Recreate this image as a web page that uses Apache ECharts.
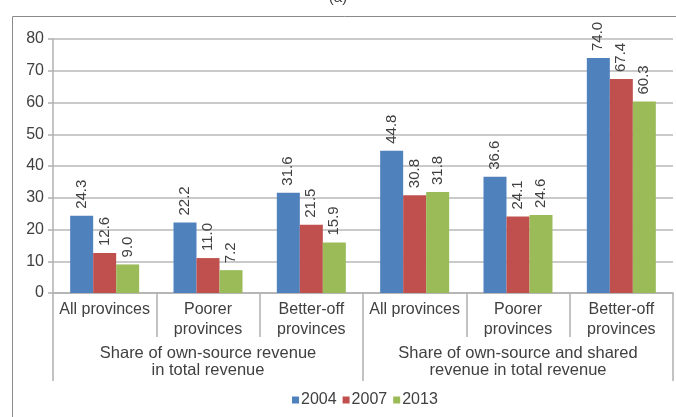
<!DOCTYPE html>
<html>
<head>
<meta charset="utf-8">
<script src="https://cdn.jsdelivr.net/npm/echarts@6/dist/echarts.min.js"></script>
<style>
  html, body { margin: 0; padding: 0; background: #fff; }
  #main { width: 676px; height: 417px; }
</style>
</head>
<body>
<div id="main"></div>
<script>
// sub-groups (inner axis) and the two outer groups
var categories = ['All provinces', 'Poorer\nprovinces', 'Better-off\nprovinces',
                  'All provinces', 'Poorer\nprovinces', 'Better-off\nprovinces'];
var groups = ['Share of own-source revenue\nin total revenue',
              'Share of own-source and shared\nrevenue in total revenue'];
var years = ['2004', '2007', '2013'];
var values2004 = [24.3, 22.2, 31.6, 44.8, 36.6, 74.0];
var values2007 = [12.6, 11.0, 21.5, 30.8, 24.1, 67.4];
var values2013 = [9.0, 7.2, 15.9, 31.8, 24.6, 60.3];
var colors = ['#4F81BD', '#C0504D', '#9BBB59'];

var chart = echarts.init(document.getElementById('main'));

function makeSeries(name, data, color) {
  return {
    name: name,
    type: 'bar',
    data: data,
    barWidth: 23,
    barGap: '0%',
    itemStyle: { color: color },
    label: {
      show: true,
      position: 'top',
      rotate: 90,
      align: 'left',
      verticalAlign: 'middle',
      distance: 7,
      color: '#404040',
      fontSize: 15,
      fontFamily: 'Liberation Sans',
      formatter: function (p) { return p.value.toFixed(1); }
    }
  };
}

var option = {
  animation: false,
  textStyle: { fontFamily: 'Liberation Sans' },
  title: {
    text: '(a)',
    left: 'center',
    top: -15,
    textStyle: { fontSize: 15, fontWeight: 'normal', color: '#404040' }
  },
  graphic: [{
    type: 'rect',
    shape: { x: 12.5, y: 16.5, width: 700, height: 500 },
    style: { fill: 'none', stroke: '#8a8a8a', lineWidth: 1 },
    silent: true
  }],
  grid: { left: 53, right: 3, top: 39, bottom: 124 },
  legend: {
    bottom: 4,
    left: 287,
    itemWidth: 7,
    itemHeight: 7,
    itemGap: 6,
    icon: 'rect',
    textStyle: { fontSize: 16, color: '#404040', padding: [0, 0, 0, -3] },
    data: years
  },
  xAxis: [{
    type: 'category',
    data: categories,
    position: 'bottom',
    axisLine: { lineStyle: { color: '#b0b0b0', width: 1.5 } },
    axisTick: { show: true, length: 44, alignWithLabel: false, lineStyle: { color: '#b0b0b0', width: 1.5 } },
    axisLabel: { color: '#404040', fontSize: 16, lineHeight: 20, margin: 7, interval: 0, verticalAlign: 'top' }
  }, {
    type: 'category',
    data: groups,
    position: 'bottom',
    axisLine: { show: false },
    axisTick: { show: true, length: 88, lineStyle: { color: '#b0b0b0', width: 1.5 } },
    axisLabel: { color: '#404040', fontSize: 16.5, lineHeight: 17, margin: 52, interval: 0, verticalAlign: 'top' },
    splitLine: { show: false }
  }],
  yAxis: {
    type: 'value',
    min: 0,
    max: 80,
    interval: 10,
    axisLine: { show: true, lineStyle: { color: '#b0b0b0', width: 1.5 } },
    axisTick: { show: true, length: 5, lineStyle: { color: '#b0b0b0', width: 1.5 } },
    axisLabel: { color: '#404040', fontSize: 16, margin: 9 },
    splitLine: { lineStyle: { color: '#b8b8b8', width: 1.5 } }
  },
  series: [
    makeSeries(years[0], values2004, colors[0]),
    makeSeries(years[1], values2007, colors[1]),
    makeSeries(years[2], values2013, colors[2])
  ]
};

chart.setOption(option);
</script>
</body>
</html>
